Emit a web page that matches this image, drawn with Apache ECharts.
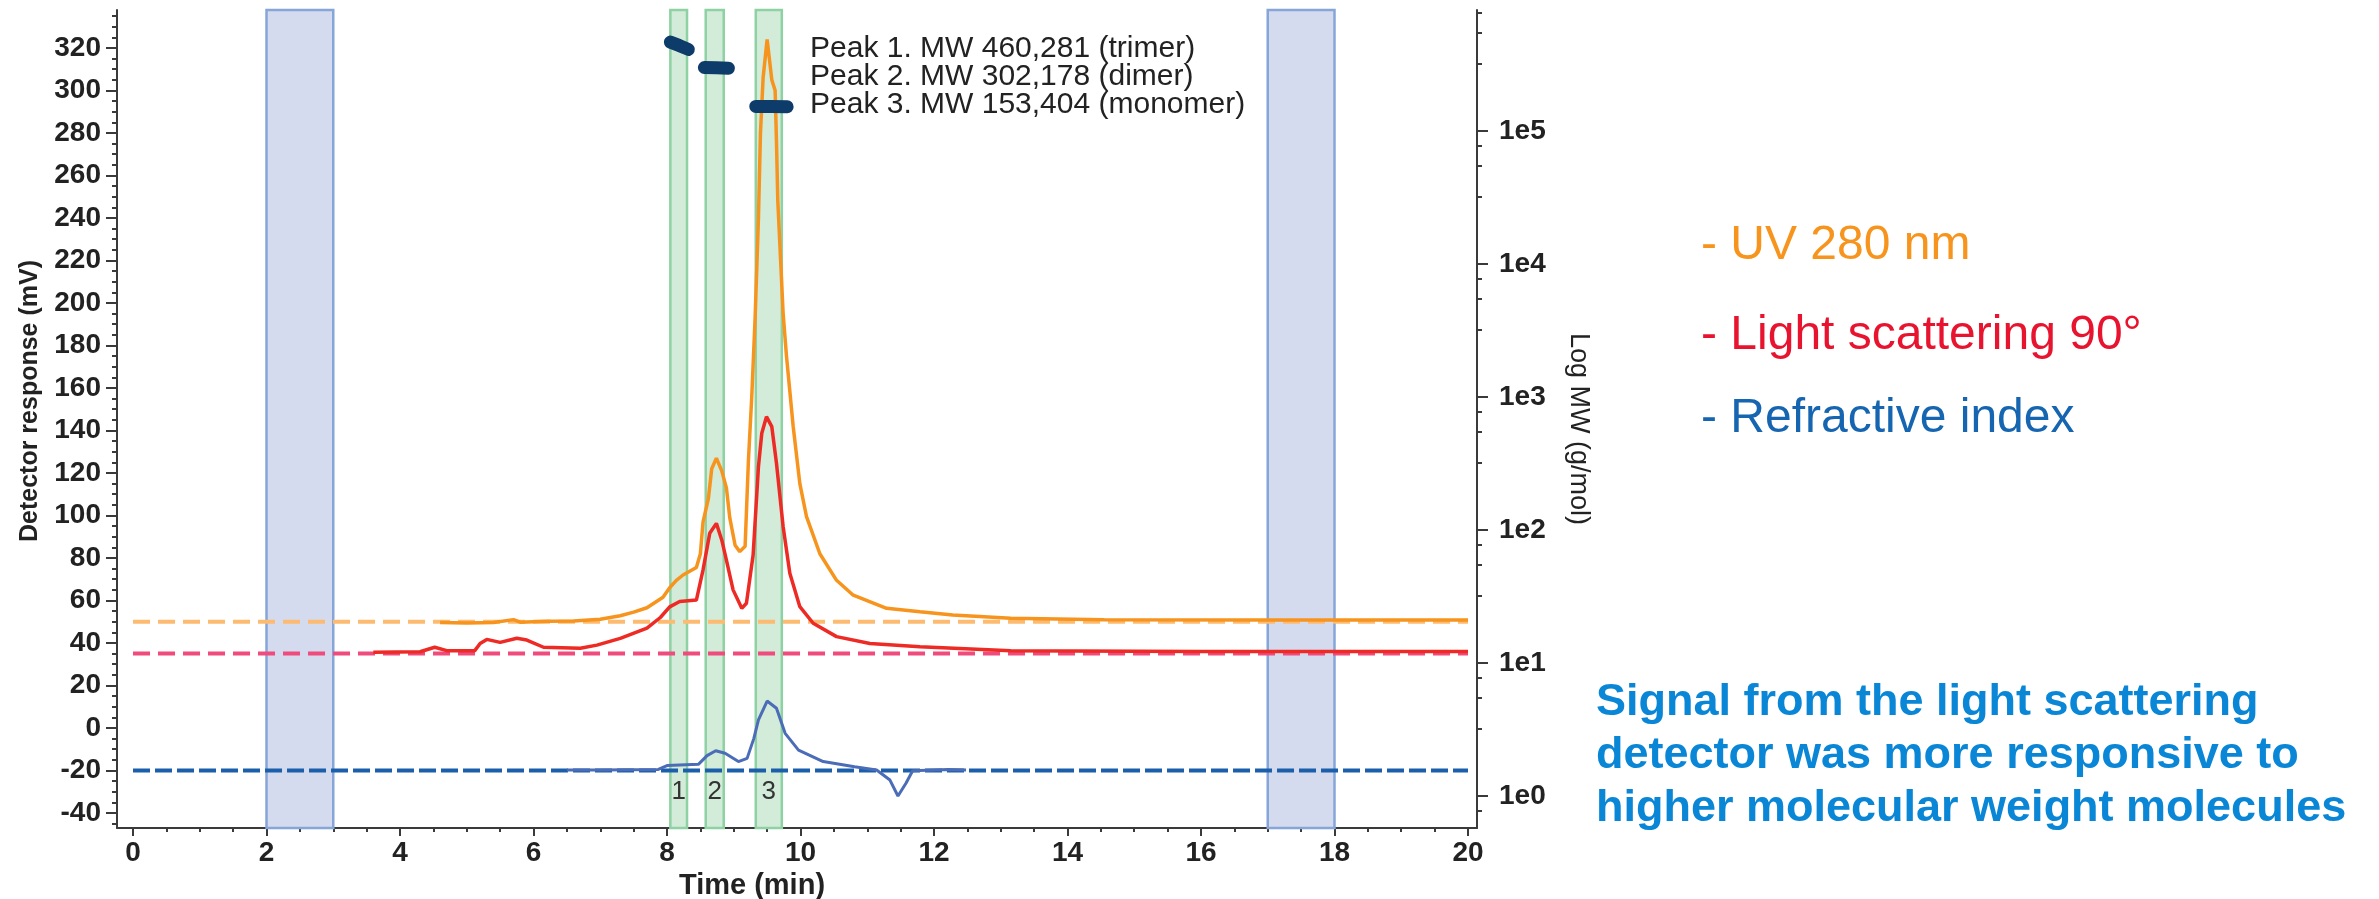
<!DOCTYPE html>
<html>
<head>
<meta charset="utf-8">
<title>SEC-MALS chromatogram</title>
<script src="https://cdn.jsdelivr.net/npm/echarts@6/dist/echarts.min.js"></script>
<style>
  html, body { margin: 0; padding: 0; background: #fff; }
  #chart { width: 2379px; height: 899px; }
</style>
</head>
<body>
<div id="chart"></div>
<script>
//刻度
const timeTicks = [0, 2, 4, 6, 8, 10, 12, 14, 16, 18, 20];
const responseTicks = [-40, -20, 0, 20, 40, 60, 80, 100, 120, 140, 160, 180, 200, 220, 240, 260, 280, 300, 320];
const mwTicks = [1, 10, 100, 1000, 10000, 100000];
const mwMinorFactors = [3.2, 5.5, 7.7];

//检测器信号 [time(min), mV]
const uvTrace = [
  [4.6, 49.6], [5.0, 49.4], [5.4, 49.6], [5.7, 51], [5.8, 49.8], [6.2, 50.2], [6.6, 50.4],
  [7.0, 51.2], [7.3, 52.8], [7.5, 54.5], [7.7, 56.6], [7.94, 61.5], [8.04, 66], [8.14, 69.5],
  [8.24, 72], [8.44, 75.5], [8.5, 82], [8.54, 97], [8.62, 108], [8.67, 122], [8.74, 127],
  [8.82, 121], [8.89, 113], [8.94, 99], [9.02, 86], [9.09, 83], [9.17, 85.5], [9.22, 126],
  [9.27, 156], [9.32, 193], [9.37, 240], [9.4, 280], [9.44, 306], [9.5, 324], [9.57, 305],
  [9.62, 300], [9.64, 276], [9.66, 248], [9.74, 195], [9.79, 175], [9.89, 142], [9.99, 115],
  [10.09, 99.5], [10.29, 82], [10.54, 69.5], [10.79, 62.5], [11.29, 56.3], [11.79, 54.7],
  [12.28, 53.2], [13.15, 51.6], [14.55, 50.9], [17, 50.8], [20, 50.8]
];
const lsTrace = [
  [3.6, 35.6], [4.3, 35.9], [4.52, 38], [4.7, 36.4], [5.12, 36.4], [5.2, 39.8], [5.3, 41.7],
  [5.5, 40.3], [5.75, 42.2], [5.9, 41.4], [6.15, 38], [6.7, 37.5], [6.95, 39], [7.3, 42.2],
  [7.7, 47], [7.9, 52], [8.04, 57], [8.19, 59.5], [8.44, 60.2], [8.54, 74.4], [8.64, 91.6],
  [8.74, 96.3], [8.82, 88.5], [8.89, 79], [8.99, 65], [9.12, 56.3], [9.19, 58.7], [9.29, 81.4],
  [9.37, 123], [9.42, 138.7], [9.49, 146.5], [9.57, 141.8], [9.64, 124.6], [9.74, 94.7],
  [9.84, 72.8], [9.99, 57.1], [10.19, 49.3], [10.54, 43], [11.04, 39.8], [11.79, 38.2],
  [13.15, 36.4], [16, 36], [20, 36]
];
const riTrace = [
  [6.5, -19.8], [7.0, -19.8], [7.87, -19.5], [8.0, -17.7], [8.47, -17.1], [8.6, -13],
  [8.73, -10.7], [8.87, -11.9], [9.07, -15.8], [9.2, -14.3], [9.3, -5], [9.37, 3.8],
  [9.5, 12.7], [9.64, 9.3], [9.77, -2.5], [9.97, -10.4], [10.34, -15.8], [10.81, -18.2],
  [11.14, -19.8], [11.34, -24.5], [11.46, -32], [11.58, -26], [11.68, -20.1], [12.21, -19.5],
  [12.48, -19.8]
];

//基线
const uvBaseline = [[0, 50], [20, 50]];
const lsBaseline = [[0, 35], [20, 35]];
const riBaseline = [[0, -20], [20, -20]];

//积分区间
const blankRegions = [[2, 3], [17, 18]];
const peakRegions = [[8.05, 8.3], [8.58, 8.85], [9.33, 9.72]];
const peakNames = ["1", "2", "3"];

//分子量 [time, g/mol]
const mwPeak1 = [[8.05, 466000], [8.18, 440000], [8.32, 411000]];
const mwPeak2 = [[8.56, 300000], [8.74, 299000], [8.92, 297000]];
const mwPeak3 = [[9.33, 153000], [9.56, 153000], [9.8, 152000]];
const peakNotes = [
  "Peak 1. MW 460,281 (trimer)",
  "Peak 2. MW 302,178 (dimer)",
  "Peak 3. MW 153,404 (monomer)"
];

const legendTexts = ["- UV 280 nm", "- Light scattering 90°", "- Refractive index"];
const legendColors = ["#f7941d", "#e8132e", "#1565b0"];
const noteText = "Signal from the light scattering\ndetector was more responsive to\nhigher molecular weight molecules";

//次刻度
const timeMinor = [];
for (let t = 0; t <= 20; t += 0.5) if (t % 2) timeMinor.push(t);
const responseMinor = [];
for (let v = -45; v <= 335; v += 5) if (v % 20) responseMinor.push(v);
const mwMinor = [];
for (let e = -1; e <= 5; e++) mwMinorFactors.forEach(f => mwMinor.push(f * Math.pow(10, e)));

const FONT = "'Liberation Sans', Arial, sans-serif";
const AXIS_COLOR = "#3a3a3a";
const X_MIN = -0.24, X_MAX = 20.135;
const Y_MIN = -47.06, Y_MAX = 337.88;
const MW_MIN = 0.5744, MW_MAX = 812800;

function traceSeries(name, data, color, width, dash, z) {
  return {
    name: name,
    type: "line",
    data: data,
    symbol: "none",
    silent: true,
    z: z,
    lineStyle: { color: color, width: width, type: dash || "solid" }
  };
}

function mwSeries(data) {
  return {
    type: "line",
    yAxisIndex: 2,
    data: data,
    symbol: "none",
    silent: true,
    z: 6,
    lineStyle: { color: "#0d3b6a", width: 13, cap: "round", join: "round" }
  };
}

const axisLabelStyle = { color: "#222", fontSize: 28, fontWeight: "bold", fontFamily: FONT };
const tickStyle = { color: AXIS_COLOR, width: 2 };

const el = document.getElementById("chart");
const chart = echarts.init(el, null, { renderer: "canvas" });

chart.setOption({
  animation: false,
  backgroundColor: "#fff",
  grid: { left: 117, right: 902, top: 10, bottom: 71, containLabel: false, outerBoundsMode: "none" },
  xAxis: [
    {
      type: "value",
      min: X_MIN,
      max: X_MAX,
      axisLine: { onZero: false, lineStyle: { color: AXIS_COLOR, width: 2 } },
      axisTick: { customValues: timeTicks, length: 8, lineStyle: tickStyle },
      axisLabel: { customValues: timeTicks, margin: 11, ...axisLabelStyle },
      splitLine: { show: false },
      name: "Time (min)",
      nameLocation: "middle",
      nameGap: 43,
      nameTextStyle: { ...axisLabelStyle, fontSize: 29, padding: [0, 90, 0, 0] }
    },
    {
      type: "value",
      min: X_MIN,
      max: X_MAX,
      position: "bottom",
      axisLine: { show: false, onZero: false },
      axisTick: { customValues: timeMinor, length: 4, lineStyle: tickStyle },
      axisLabel: { show: false },
      splitLine: { show: false }
    }
  ],
  yAxis: [
    {
      type: "value",
      min: Y_MIN,
      max: Y_MAX,
      axisLine: { show: true, onZero: false, lineStyle: { color: AXIS_COLOR, width: 2 } },
      axisTick: { show: true, customValues: responseTicks, length: 11, lineStyle: tickStyle },
      axisLabel: { customValues: responseTicks, margin: 16, ...axisLabelStyle },
      splitLine: { show: false },
      name: "Detector response (mV)",
      nameLocation: "middle",
      nameRotate: 90,
      nameGap: 74,
      nameTextStyle: { color: "#222", fontSize: 25, fontWeight: "bold", fontFamily: FONT, padding: [0, 0, 0, 36] }
    },
    {
      type: "value",
      min: Y_MIN,
      max: Y_MAX,
      position: "left",
      axisLine: { show: false, onZero: false },
      axisTick: { show: true, customValues: responseMinor, length: 5, lineStyle: tickStyle },
      axisLabel: { show: false },
      splitLine: { show: false }
    },
    {
      type: "log",
      logBase: 10,
      min: MW_MIN,
      max: MW_MAX,
      position: "right",
      axisLine: { show: true, onZero: false, lineStyle: { color: AXIS_COLOR, width: 2 } },
      axisTick: { show: true, customValues: mwTicks, length: 11, lineStyle: tickStyle },
      axisLabel: {
        customValues: mwTicks,
        margin: 22,
        ...axisLabelStyle,
        formatter: v => "1e" + Math.round(Math.log10(v))
      },
      splitLine: { show: false },
      minorTick: { show: false },
      name: "Log MW (g/mol)",
      nameLocation: "middle",
      nameRotate: -90,
      nameGap: 88,
      nameTextStyle: { color: "#222", fontSize: 27, fontFamily: FONT, padding: [0, 0, 0, 20] }
    },
    {
      type: "log",
      logBase: 10,
      min: MW_MIN,
      max: MW_MAX,
      position: "right",
      axisLine: { show: false, onZero: false },
      axisTick: { show: true, customValues: mwMinor, length: 5, lineStyle: tickStyle },
      axisLabel: { show: false },
      splitLine: { show: false }
    }
  ],
  series: [
    {
      type: "line",
      data: riBaseline,
      symbol: "none",
      silent: true,
      z: 1,
      lineStyle: { opacity: 0 },
      markArea: {
        silent: true,
        itemStyle: { color: "#d5dbef", borderColor: "#86a5d8", borderWidth: 2.5 },
        data: blankRegions.map(r => [{ xAxis: r[0] }, { xAxis: r[1] }])
      }
    },
    {
      type: "line",
      data: riBaseline,
      symbol: "none",
      silent: true,
      z: 1,
      lineStyle: { opacity: 0 },
      markArea: {
        silent: true,
        itemStyle: { color: "#d3ebd9", borderColor: "#8ed1a3", borderWidth: 2.5 },
        label: {
          show: true,
          position: "insideBottom",
          distance: 24,
          formatter: "{b}",
          color: "#333",
          fontSize: 26,
          fontFamily: FONT
        },
        data: peakRegions.map((r, i) => [{ name: peakNames[i], xAxis: r[0] }, { xAxis: r[1] }])
      }
    },
    traceSeries("UV baseline", uvBaseline, "#fdbb72", 4, [17, 8], 2),
    traceSeries("LS baseline", lsBaseline, "#ef4b7c", 4, [17, 8], 2),
    traceSeries("RI baseline", riBaseline, "#1b5faa", 4, [17, 5], 2),
    traceSeries("UV 280 nm", uvTrace, "#f7941d", 3.5, null, 3),
    traceSeries("Light scattering 90°", lsTrace, "#ee2a24", 3.5, null, 3),
    traceSeries("Refractive index", riTrace, "#4b6cb7", 3, null, 3),
    mwSeries(mwPeak1),
    mwSeries(mwPeak2),
    mwSeries(mwPeak3)
  ],
  graphic: [
    ...peakNotes.map((t, i) => ({
      type: "text",
      left: 810,
      top: 47 + i * 28 - 13,
      style: { text: t, font: "30px " + FONT, fill: "#222" }
    })),
    ...legendTexts.map((t, i) => ({
      type: "text",
      left: 1701,
      top: [240, 330, 413][i] - 18,
      style: { text: t, font: "48px " + FONT, fill: legendColors[i] }
    })),
    {
      type: "text",
      left: 1596,
      top: 676,
      style: { text: noteText, font: "bold 45px " + FONT, fill: "#0a86d6", lineHeight: 53 }
    }
  ]
});
</script>
</body>
</html>
